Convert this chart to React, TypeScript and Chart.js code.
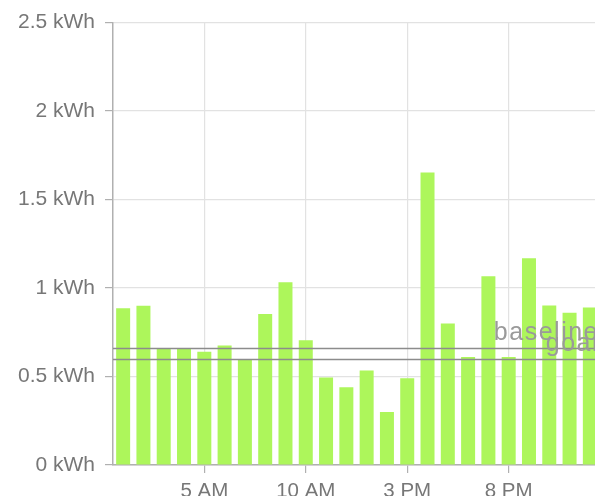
import React, { useEffect, useRef } from "react";
import { Chart, registerables } from "chart.js";

Chart.register(...registerables);

const hours = [
  "1 AM", "2 AM", "3 AM", "4 AM", "5 AM", "6 AM", "7 AM", "8 AM", "9 AM", "10 AM", "11 AM", "12 PM",
  "1 PM", "2 PM", "3 PM", "4 PM", "5 PM", "6 PM", "7 PM", "8 PM", "9 PM", "10 PM", "11 PM", "12 AM",
];
const usage = [
  0.886, 0.9, 0.655, 0.655, 0.64, 0.675, 0.596, 0.854, 1.033, 0.705, 0.495, 0.44,
  0.534, 0.3, 0.49, 1.653, 0.8, 0.61, 1.067, 0.611, 1.168, 0.901, 0.86, 0.89,
];
const labelledHours = ["5 AM", "10 AM", "3 PM", "8 PM"];
const refLabels = ["baseline", "goal"];
const refValues = [0.66, 0.6];
const yMax = 2.5;
const yStep = 0.5;

const FONT = "'Liberation Sans', Arial, sans-serif";

const refLinePlugin = {
  id: "refLines",
  afterDatasetsDraw(chart: any) {
    const { ctx, chartArea, scales } = chart;
    const y = scales.y;
    ctx.save();
    refValues.forEach((v, i) => {
      const py = Math.round(y.getPixelForValue(v)) + 0.5;
      ctx.strokeStyle = "#8c8c8c";
      ctx.lineWidth = 1.5;
      ctx.beginPath();
      ctx.moveTo(chartArea.left, py);
      ctx.lineTo(chartArea.right, py);
      ctx.stroke();
      ctx.fillStyle = "#9a9a9a";
      ctx.font = `25px ${FONT}`;
      (ctx as any).letterSpacing = "1.5px";
      ctx.textAlign = "right";
      ctx.textBaseline = "alphabetic";
      ctx.fillText(refLabels[i], chartArea.right - 1, py - 9);
    });
    ctx.restore();
  },
};

export default function App() {
  const ref = useRef<HTMLCanvasElement | null>(null);

  useEffect(() => {
    if (!ref.current) return;
    const chart = new Chart(ref.current, {
      type: "bar",
      data: {
        labels: hours,
        datasets: [
          {
            data: usage,
            backgroundColor: "#adf65b",
            borderWidth: 0,
            barPercentage: 0.69,
            categoryPercentage: 1,
          },
        ],
      },
      options: {
        responsive: false,
        animation: false,
        events: [],
        layout: { padding: { top: 22, left: 0, right: 0, bottom: 0 } },
        plugins: { legend: { display: false }, tooltip: { enabled: false } },
        scales: {
          x: {
            offset: true,
            afterBuildTicks: (scale: any) => {
              scale.ticks = scale.ticks.filter((t: any) => labelledHours.includes(hours[t.value]));
            },
            afterFit: (scale: any) => {
              scale.height = 55;
            },
            grid: {
              offset: false,
              color: "#e2e2e2",
              tickColor: "#b0b0b0",
              tickLength: 8,
              lineWidth: 1.2,
            },
            border: { color: "#b0b0b0", width: 1.5 },
            ticks: {
              autoSkip: false,
              maxRotation: 0,
              padding: 6,
              color: "#777777",
              font: { family: FONT, size: 20.5 },
            },
          },
          y: {
            min: 0,
            max: yMax,
            afterFit: (scale: any) => {
              scale.width = 113;
            },
            grid: {
              color: "#e2e2e2",
              tickColor: "#b0b0b0",
              tickLength: 8,
              lineWidth: 1.2,
            },
            border: { color: "#b0b0b0", width: 1.5 },
            ticks: {
              stepSize: yStep,
              padding: 10,
              color: "#777777",
              font: { family: FONT, size: 21 },
              callback: (v: any) => `${v} kWh`,
            },
          },
        },
      },
      plugins: [refLinePlugin],
    });
    return () => chart.destroy();
  }, []);

  return (
    <div
      style={{
        position: "fixed",
        left: 0,
        top: 0,
        width: 595,
        height: 496,
        overflow: "hidden",
        background: "#fff",
      }}
    >
      <canvas ref={ref} width={600} height={520} style={{ display: "block" }} />
    </div>
  );
}
